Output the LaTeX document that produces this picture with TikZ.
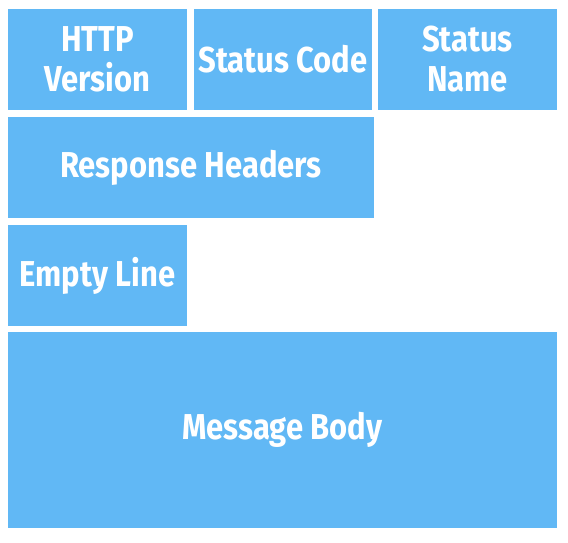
\documentclass[tikz,border=0pt]{standalone}
\usepackage{fontspec}
\setmainfont[FakeStretch=0.86]{Fira Sans}
\definecolor{boxblue}{HTML}{61B8F5}
\begin{document}
\begin{tikzpicture}[x=1pt,y=-1pt,
  blk/.style={fill=boxblue,draw=none,text=white,font=\bfseries\fontsize{36}{40}\selectfont,align=center,inner sep=0pt}]
\useasboundingbox (0,0) rectangle (568,542);
\fill[boxblue] (8,9) rectangle (187,110) node[midway,blk] (ver) {HTTP\\Version};
\fill[boxblue] (194,9) rectangle (372,110) node[midway,blk] (code) {Status Code};
\fill[boxblue] (378,9) rectangle (557,110) node[midway,blk] (name) {Status\\Name};
\fill[boxblue] (8,117) rectangle (374,218) node[midway,blk] (hdr) {Response Headers};
\fill[boxblue] (8,225) rectangle (187,326) node[midway,blk] (empty) {Empty Line};
\fill[boxblue] (8,332) rectangle (557,528) node[midway,blk] (body) {Message Body};
\end{tikzpicture}
\end{document}
